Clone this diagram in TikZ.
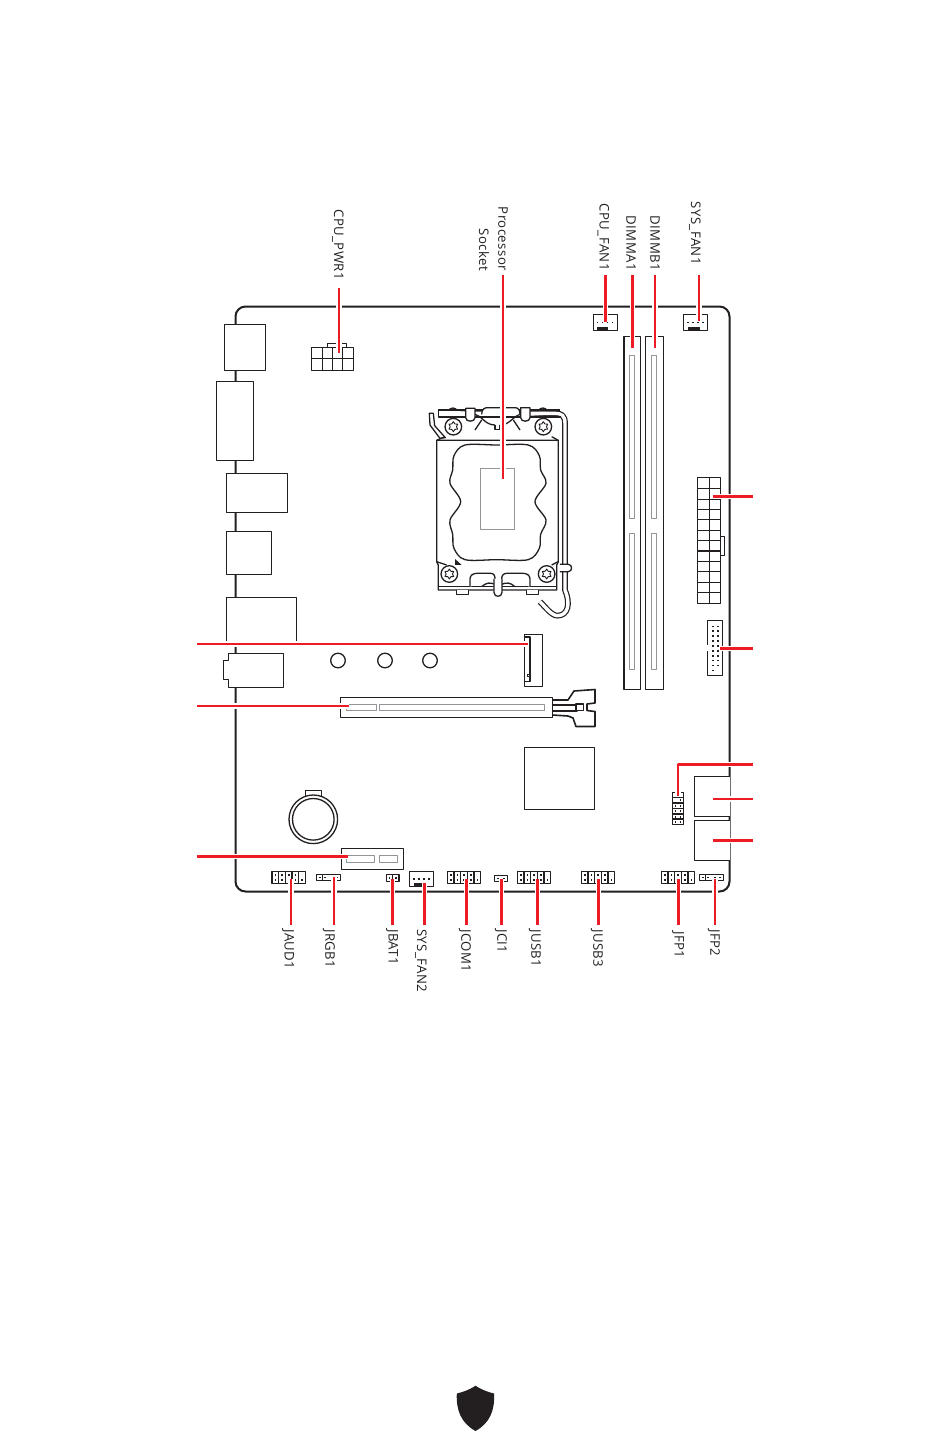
\documentclass[tikz,border=0pt]{standalone}
\usepackage{fontspec}
\setmainfont{Open Sans}[LetterSpace=3]
\usetikzlibrary{shapes.geometric}
\definecolor{board_black}{HTML}{231f20}
\definecolor{leader_red}{HTML}{ed1c24}
\definecolor{slot_gray}{HTML}{939598}
\tikzset{
    part/.style={draw=board_black, fill=white, line width=1.3pt},
    slotgray/.style={draw=slot_gray, fill=white, line width=1pt},
    leader/.style={draw=leader_red, line width=2.5pt, preaction={draw=white, line width=5.5pt}},
    tag/.style={rotate=-90, inner sep=0pt, text=board_black, font=\fontsize{13.2}{15}\selectfont},
    screwstar/.style={star, star points=6, star point ratio=1.6, draw=board_black, inner sep=0pt, minimum size=10pt, line width=0.9pt},
}
\newcommand{\pinat}[2]{\fill[board_black] (#1-0.8,#2-0.8) rectangle (#1+0.8,#2+0.8);}
\begin{document}
\begin{tikzpicture}[x=1pt, y=-1pt, line cap=butt, line join=round]
    \useasboundingbox (0,0) rectangle (950,1436);
    % Board outline
    \draw[board_black, line width=2pt, rounded corners=10pt] (235.5,306.5) rectangle (729.5,891.5);

    % Rear IO
    \draw[part] (224.5,324.5) rectangle (265.5,370.5);
    \draw[part] (216.5,381.5) rectangle (253.5,460.5);
    \draw[part] (226.5,473.5) rectangle (287.5,512.5);
    \draw[part] (226.5,531.5) rectangle (271.5,574.5);
    \draw[part] (226.5,597.5) rectangle (296.5,644);
    \draw[part] (228.5,653.5) -- (283.5,653.5) -- (283.5,687.5) -- (228.5,687.5) -- (228.5,679.5)
        -- (223.5,679.5) -- (223.5,660.5) -- (228.5,660.5) -- cycle;

    % CPU power
    \draw[part] (327.5,347.5) -- (327.5,343.5) -- (346.5,343.5) -- (346.5,347.5);
    \draw[part] (311.5,347.5) rectangle (353.5,370.5);
    \draw[part] (311.5,358.5) -- (353.5,358.5);
    \foreach \x in {322.5,332.5,342.5}
        \draw[part] (\x,347.5) -- (\x,370.5);

    % Processor socket, in steps of a third
    \begin{scope}[shift={(420,395)}, x=0.3333pt, y=-0.3333pt]
        % lever
        \draw[board_black, line width=1.2pt, double=white, double distance=3.4pt]
            (60,55) -- (405,55) .. controls (425,55) and (435,62) .. (435,85) -- (435,585)
            .. controls (452,625) and (445,662) .. (412,662) .. controls (395,662) and (375,635) .. (360,620);
        \draw[part] (420,508) -- (445,508) .. controls (458,508) and (458,530) .. (445,530) -- (420,530);
        \draw[part] (28,55) -- (40,55) -- (44,92) -- (76,128) -- (60,130) -- (30,90) -- cycle;
        % top tabs
        \draw[part] (85,48) .. controls (90,36) and (108,36) .. (112,48);
        \draw[part] (355,48) .. controls (360,36) and (378,36) .. (382,48);
        \draw[part] (55,45) -- (55,66) -- (422,66);
        \draw[part, fill=none] (55,45) -- (420,45);
        \draw[part] (185,58) .. controls (185,40) and (195,38) .. (205,38) -- (285,38) .. controls (295,38) and (300,45) .. (300,58);
        \draw[board_black, line width=1.6pt] (195,68) -- (282,68);
        \draw[part, fill=none] (165,58) .. controls (185,62) and (195,90) .. (225,90);
        \draw[part, fill=none] (302,58) .. controls (280,62) and (270,90) .. (240,90);
        \draw[part] (137,40) -- (165,40) -- (165,68) .. controls (165,82) and (137,82) .. (137,68) -- cycle;
        \draw[part] (302,38) -- (330,38) -- (330,68) .. controls (330,82) and (302,82) .. (302,68) -- cycle;
        \draw[part, fill=none] (165,105) -- (185,75);
        \draw[part, fill=none] (300,105) -- (280,75);
        \draw[part, fill=none] (225,90) -- (225,103) -- (240,103) -- (240,90);
        % body
        \draw[part] (50,136) -- (415,136) -- (415,500) -- (410,510) -- (410,585) -- (55,585) -- (55,510) -- (50,500) -- cycle;
        \draw[part, fill=none] (50,500) -- (80,510);
        \draw[part, fill=none] (415,500) -- (395,510);
        \draw[part, fill=none] (55,575) -- (410,575);
        \draw[part, fill=none] (75,125) -- (50,136);
        \draw[part, fill=none] (395,125) -- (415,136);
        % opening
        \draw[part, fill=none] plot[smooth cycle, tension=0.55] coordinates {
            (135,150) (230,150) (325,150) (358,182) (362,225) (378,265) (345,320) (378,375) (362,418) (358,460)
            (325,494) (230,494) (135,494) (102,460) (98,418) (90,375) (122,320) (90,265) (98,225) (102,182)};
        \draw[slotgray] (181,220) rectangle (284,403);
        \fill[board_black] (105,492) -- (125,510) -- (105,510) -- cycle;
        % screws
        \foreach \n/\u/\v in {a/100/95, b/370/95, c/88/537, d/380/537} {
            \draw[part] (\u,\v) circle (8.3pt);
            \node[screwstar] (screw\n) at (\u,\v) {};
        }
        % bottom latch
        \draw[part] (150,575) -- (150,552) .. controls (150,540) and (160,535) .. (172,535) -- (212,535) .. controls (222,535) and (225,542) .. (225,552);
        \draw[part] (330,575) -- (330,552) .. controls (330,540) and (320,535) .. (308,535) -- (260,535) .. controls (250,535) and (245,542) .. (245,552);
        \draw[part, fill=none] (185,575) .. controls (200,562) and (210,562) .. (225,568);
        \draw[part, fill=none] (285,575) .. controls (270,562) and (260,562) .. (245,568);
        \draw[part] (222,552) -- (222,592) .. controls (222,608) and (246,608) .. (246,592) -- (246,552);
        \draw[part] (110,586) -- (110,598) -- (146,598) -- (146,586);
        \draw[part] (320,586) -- (320,598) -- (356,598) -- (356,586);
    \end{scope}

    % Memory slots
    \draw[part] (624,336.5) rectangle (640.5,689.5);
    \draw[part] (645.5,336.5) rectangle (663.5,689.5);
    \foreach \x in {629.5,651.5} {
        \draw[slotgray] (\x,355) rectangle (\x+5,518);
        \draw[slotgray] (\x,533) rectangle (\x+5,669);
    }

    % Fan headers
    \draw[part] (593.5,314.5) rectangle (617.5,330.5);
    \fill[board_black] (596.5,327) rectangle (607.5,330.5);
    \foreach \x in {597.5,602.5,607.5,612.5} {\pinat{\x}{322.3}}
    \draw[part] (683.5,314.5) rectangle (707.5,330.5);
    \fill[board_black] (687.5,327) rectangle (700,330.5);
    \foreach \x in {688,693,698,703} {\pinat{\x}{322.3}}
    \draw[part] (409.5,871.5) rectangle (433.5,886.5);
    \fill[board_black] (413.5,883) rectangle (425,886.5);
    \foreach \x in {414,419,424,429} {\pinat{\x}{878.7}}

    % ATX power
    \draw[part] (720.5,536.5) -- (724.5,536.5) -- (724.5,555.5) -- (720.5,555.5);
    \draw[part] (697.5,477.5) rectangle (720.5,603.5);
    \draw[part] (709.5,477.5) -- (709.5,603.5);
    \foreach \y in {488.5,499.5,509.5,519.5,530.5,540.5,551,561.5,571.5,582.5,592.5}
        \draw[part] (697.5,\y) -- (720.5,\y);

    % Front USB header on the edge
    \draw[part] (707.5,620.5) rectangle (722.5,675.5);
    \draw[white, line width=2pt] (707.5,645) -- (707.5,651);
    \foreach \y in {626.3,631.2,636.1,641,645.9,650.8,655.7,660.6,665.5} {
        \pinat{712.7}{\y}
        \pinat{717.7}{\y}
    }
    \pinat{712.7}{670.4}

    % M.2 and PCIe
    \draw[part] (524.5,634.5) rectangle (542.5,686.5);
    \draw[part, fill=none] (524.5,637) -- (530,637) -- (530,681.5) -- (524.5,681.5);
    \draw[part, line width=0.8pt] (527.3,674) rectangle (529.5,676.5);
    \foreach \x in {338,385,430}
        \draw[part] (\x,660.5) circle (7.3pt);
    % latch of the slot
    \draw[part, line width=1.6pt] (552.5,700) -- (568,700) -- (574,691) -- (595,689.5) -- (595,703) -- (587,704) -- (587,710.5)
        -- (595,711.5) -- (595,726.5) -- (576,726.5) -- (573,718) -- (568,716) -- (552.5,715);
    \draw[part] (552.5,705) -- (570,705) -- (577,705) -- (577,711) -- (570,711) -- (552.5,711);
    \draw[part] (576,704) rectangle (583.5,710.5);
    \draw[part] (340.5,697.5) rectangle (552.5,717.5);
    \draw[slotgray] (346.5,704.3) rectangle (376.5,710.3);
    \draw[slotgray] (379,704.3) rectangle (544.7,710.3);

    % Chipset
    \draw[part, line width=1pt] (524.5,747.5) rectangle (594.5,809.5);

    % Battery
    \draw[part] (305.5,798) -- (305.5,790.5) -- (321.5,790.5) -- (321.5,798);
    \draw[part] (313.3,819.3) circle (24.3pt);
    \draw[part] (313.3,819.3) circle (20.8pt);

    % Second M.2
    \draw[part] (341.5,848.5) rectangle (403.5,869.5);
    \draw[slotgray] (346.5,855.3) rectangle (374.3,862.7);
    \draw[slotgray] (379.3,855.3) rectangle (397.7,862.7);

    % Bottom headers, two rows
    \foreach \x in {272,447.3,517.3,581.3,661.3} {
        \draw[part] (\x,871.5) rectangle (\x+33.4,883.5);
        \foreach \d in {6.7,13.4,20,26.7}
            \draw[part] (\x+\d,871.5) -- (\x+\d,883.5);
        \foreach \d in {3.5,10,16.8,23.5} {\pinat{\x+\d}{874.7}}
        \foreach \d in {3.5,10,16.8,23.5,30} {\pinat{\x+\d}{880}}
    }
    % Bottom headers, one row
    \foreach \x in {316.7,699.7} {
        \draw[part] (\x,874.5) rectangle (\x+24,880.5);
        \draw[part] (\x+6,874.5) -- (\x+6,880.5);
        \foreach \d in {3.3,8.5,15,20} {\pinat{\x+\d}{877.5}}
    }
    \draw[part] (386.7,874.5) rectangle (399,881.5);
    \draw[part] (392.8,874.5) -- (392.8,881.5);
    \pinat{389.5}{878}
    \pinat{396}{878}
    \draw[part] (494.5,875.5) rectangle (507.5,881.5);
    \pinat{497.7}{878.5}
    \pinat{504}{878.5}

    % Upright header and the two ports
    \draw[part] (672.5,792.5) rectangle (683.5,824.5);
    \foreach \y in {797.5,803,808.5,814,819}
        \draw[part] (672.5,\y) -- (683.5,\y);
    \pinat{675.5}{794.7}
    \pinat{680.5}{800}
    \foreach \y in {805.7,811,816.7,821.7} {
        \pinat{675.5}{\y}
        \pinat{680.5}{\y}
    }
    \draw[part] (729.5,776.5) -- (694.5,776.5) -- (694.5,816.5) -- (729.5,816.5);
    \draw[part] (729.5,820.5) -- (694.5,820.5) -- (694.5,860.5) -- (729.5,860.5);

    % Shield
    \fill[board_black] (475.5,1385.7) .. controls (482,1390) and (488,1392) .. (494,1393.5)
        .. controls (495,1410) and (490,1423) .. (475.5,1431)
        .. controls (461,1423) and (456,1410) .. (456.8,1393.5)
        .. controls (463,1392) and (469,1390) .. cycle;

    % Labels above the board
    \node[tag, anchor=east] (lblCpuPwr) at (338,280) {CPU\_PWR1};
    \node[tag, anchor=east] (lblSocketA) at (503,271) {Processor};
    \node[tag, anchor=east] (lblSocketB) at (484,271) {Socket};
    \node[tag, anchor=east] (lblCpuFan) at (603.5,271) {CPU\_FAN1};
    \node[tag, anchor=east] (lblDimmA) at (631,271) {DIMMA1};
    \node[tag, anchor=east] (lblDimmB) at (655,271) {DIMMB1};
    \node[tag, anchor=east] (lblSysFan) at (695,265) {SYS\_FAN1};
    % Labels below the board
    \node[tag, anchor=west] (lblAud) at (288,929) {JAUD1};
    \node[tag, anchor=west] (lblRgb) at (329,929) {JRGB1};
    \node[tag, anchor=west] (lblBat) at (392,929) {JBAT1};
    \node[tag, anchor=west] (lblSysFanB) at (421,929) {SYS\_FAN2};
    \node[tag, anchor=west] (lblCom) at (465,929) {JCOM1};
    \node[tag, anchor=west] (lblCi) at (501,929) {JCI1};
    \node[tag, anchor=west] (lblUsbA) at (535,929) {JUSB1};
    \node[tag, anchor=west] (lblUsbB) at (597,929) {JUSB3};
    \node[tag, anchor=west] (lblFpA) at (678,931) {JFP1};
    \node[tag, anchor=west] (lblFpB) at (714,929) {JFP2};

    % Leader ends
    \coordinate (cpuPwr) at (339,353);
    \coordinate (socket) at (503,479);
    \coordinate (cpuFan) at (605.7,322);
    \coordinate (dimmA) at (632.7,347.7);
    \coordinate (dimmB) at (655,347.7);
    \coordinate (sysFan) at (699,321);
    \coordinate (aud) at (291,879);
    \coordinate (rgb) at (334,877);
    \coordinate (bat) at (392.7,879);
    \coordinate (sysFanB) at (424.5,883);
    \coordinate (com) at (466.5,879);
    \coordinate (ci) at (501.7,879);
    \coordinate (usbA) at (537.7,879);
    \coordinate (usbB) at (598.7,879);
    \coordinate (fpA) at (678.7,879.3);
    \coordinate (fpB) at (715,879);

    % Leaders with a label
    \foreach \l/\e/\g in {lblCpuPwr/cpuPwr/8, lblSocketA/socket/4, lblCpuFan/cpuFan/4, lblDimmA/dimmA/4, lblDimmB/dimmB/4, lblSysFan/sysFan/10}
        \draw[leader] ([yshift=-\g pt]\e |- \l.east) -- (\e);
    \foreach \l/\e/\g in {lblAud/aud/4, lblRgb/rgb/4, lblBat/bat/4, lblSysFanB/sysFanB/4, lblCom/com/4, lblCi/ci/4, lblUsbA/usbA/4, lblUsbB/usbB/4, lblFpA/fpA/6, lblFpB/fpB/4}
        \draw[leader] ([yshift=\g pt]\e |- \l.west) -- (\e);

    % Leaders without a label
    \coordinate (freeM) at (197,644);
    \coordinate (freeP) at (197,706);
    \coordinate (freeW) at (197,856.7);
    \coordinate (freeA) at (753,496.7);
    \coordinate (freeU) at (753,648.7);
    \coordinate (freeT) at (753,764.7);
    \coordinate (freeG) at (753,799);
    \coordinate (freeH) at (753,840.7);
    \coordinate (endM) at (528.3,644);
    \coordinate (endP) at (348.7,706);
    \coordinate (endW) at (348.3,856.7);
    \coordinate (endA) at (713,496.7);
    \coordinate (endU) at (720,648.7);
    \coordinate (endT) at (678,796);
    \coordinate (endG) at (713,799);
    \coordinate (endH) at (713,840.7);
    \foreach \a/\b in {freeM/endM, freeP/endP, freeW/endW, freeA/endA, freeU/endU, freeG/endG, freeH/endH}
        \draw[leader] (\a) -- (\b);
    \draw[leader] (freeT) -| (endT);
\end{tikzpicture}
\end{document}
